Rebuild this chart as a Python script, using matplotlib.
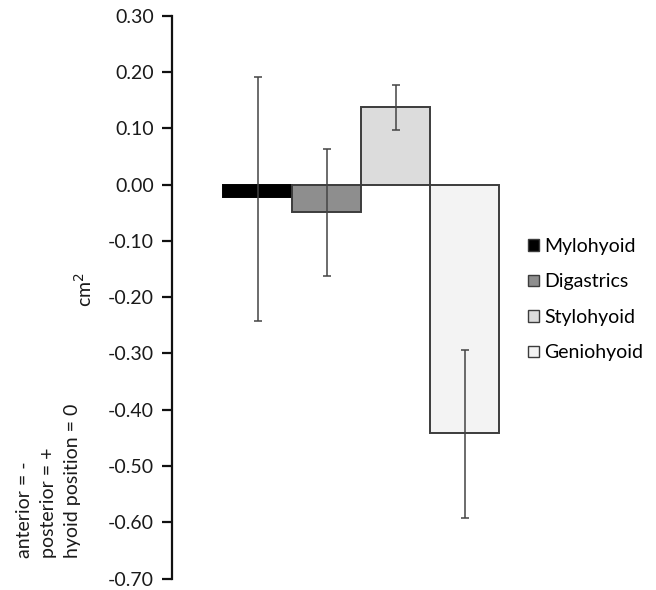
import matplotlib
matplotlib.use("Agg")
import matplotlib.pyplot as plt
from matplotlib.patches import Patch

plt.rcParams['font.family'] = ['Lato', 'DejaVu Sans']

muscles = ["Mylohyoid", "Digastrics", "Stylohyoid", "Geniohyoid"]
values = [-0.022, -0.049, 0.137, -0.442]
err_upper = [0.191, 0.063, 0.177, -0.294]
err_lower = [-0.242, -0.163, 0.097, -0.592]
colors = ["#000000", "#8e8e8e", "#dcdcdc", "#f3f3f3"]
yticks = [0.30, 0.20, 0.10, 0.00, -0.10, -0.20, -0.30, -0.40, -0.50, -0.60, -0.70]

W, H = 656, 590
fig = plt.figure(figsize=(W / 100, H / 100), dpi=100)
ax_left, ax_right = 172, 520
ax_top, ax_bot = 15.7, 578.5
ax = fig.add_axes([ax_left / W, 1 - ax_bot / H, (ax_right - ax_left) / W, (ax_bot - ax_top) / H])

px_per_unit = 69.0
bar0_left = 223
x0 = -0.5 - (bar0_left - ax_left) / px_per_unit
x1 = -0.5 + (ax_right - bar0_left) / px_per_unit
ax.set_xlim(x0, x1)
ax.set_ylim(-0.70, 0.30)

xs = list(range(len(muscles)))
handles = []
for x, v, c, name in zip(xs, values, colors, muscles):
    ec = "#000000" if c == "#000000" else "#3c3c3c"
    ax.bar(x, v, width=1.0, color=c, edgecolor=ec, linewidth=1.4, zorder=2)
    handles.append(Patch(facecolor=c, edgecolor="#3c3c3c", linewidth=1.0, label=name))

for x, v, hi, lo in zip(xs, values, err_upper, err_lower):
    ax.errorbar([x], [v], yerr=[[v - lo], [hi - v]], fmt="none",
                ecolor="#444444", elinewidth=1.1, capsize=3, capthick=1.1, zorder=3)

for s in ["top", "right", "bottom"]:
    ax.spines[s].set_visible(False)
ax.spines["left"].set_linewidth(1.6)
ax.spines["left"].set_color("#111111")
ax.set_xticks([])
ax.set_yticks(yticks)
ax.set_yticklabels([f"{t:.2f}" for t in yticks], fontsize=14, color="#1a1a1a")
ax.tick_params(axis="y", direction="out", length=7, width=1.6, color="#111111", pad=6)

fig.text(84 / W, 1 - 290 / H, "cm$^2$", rotation=90, fontsize=14, ha="center", va="center", color="#1a1a1a")
fig.text(16 / W, 1 - 558 / H, "anterior = -\nposterior = +\nhyoid position = 0",
         rotation=90, fontsize=14, ha="left", va="bottom", ma="left",
         linespacing=1.5, color="#1a1a1a")

leg = fig.legend(handles=handles, loc="upper left", bbox_to_anchor=(528 / W, 1 - 238 / H),
                 frameon=False, fontsize=14, handlelength=0.55, handleheight=0.55,
                 handletextpad=0.3, labelspacing=0.95, borderpad=0, borderaxespad=0)

fig.savefig("out.png", dpi=100)
